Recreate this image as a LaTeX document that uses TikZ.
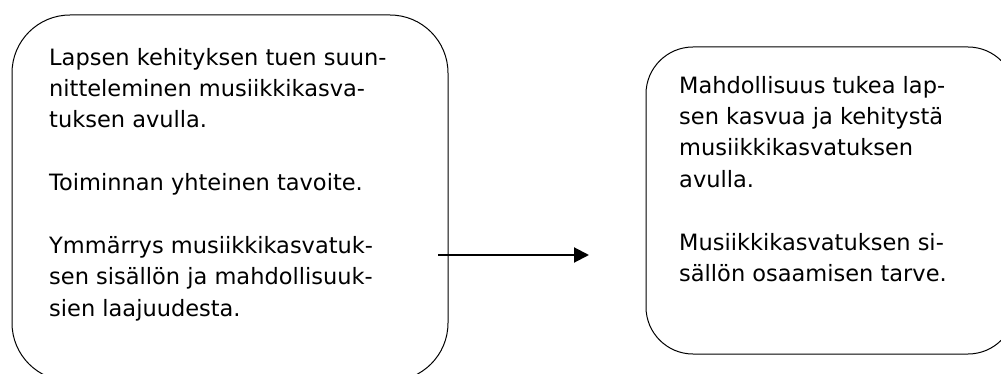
\documentclass[tikz,border=0pt]{standalone}
\usepackage{fontspec}
\setmainfont{DejaVu Sans}
\usetikzlibrary{arrows.meta}
\tikzset{
  panel/.style={draw=black, line width=1pt, rounded corners=#1, inner sep=0pt},
  paneltext/.style={anchor=north west, inner sep=0pt, align=left,
    font=\fontsize{22.5}{31.4}\selectfont},
  flow/.style={line width=2pt, -{Triangle[length=15pt,width=15pt]}}
}
\begin{document}
\begin{tikzpicture}[x=1pt,y=-1pt]
\useasboundingbox (0,0) rectangle (1001,374);
\clip (0,0) rectangle (1001,374);
\node[panel=58pt, minimum width=436pt, minimum height=366pt] (left) at (230,198) {};
\node[panel=47pt, minimum width=369pt, minimum height=307pt] (right) at (830.5,200.5) {};
\node[paneltext] (lefttext) at (49,47.9) {Lapsen kehityksen tuen suun-\\nitteleminen musiikkikasva-\\tuksen avulla.\\[31.4pt]Toiminnan yhteinen tavoite.\\[31.4pt]Ymmärrys musiikkikasvatuk-\\sen sisällön ja mahdollisuuk-\\sien laajuudesta.};
\node[paneltext] (righttext) at (679,75.9) {Mahdollisuus tukea lap-\\sen kasvua ja kehitystä\\musiikkikasvatuksen\\avulla.\\[31.4pt]Musiikkikasvatuksen si-\\sällön osaamisen tarve.};
\coordinate (arrowstart) at (438,255);
\coordinate (arrowend) at (589,255);
\draw[flow] (arrowstart) -- (arrowend);
\end{tikzpicture}
\end{document}
